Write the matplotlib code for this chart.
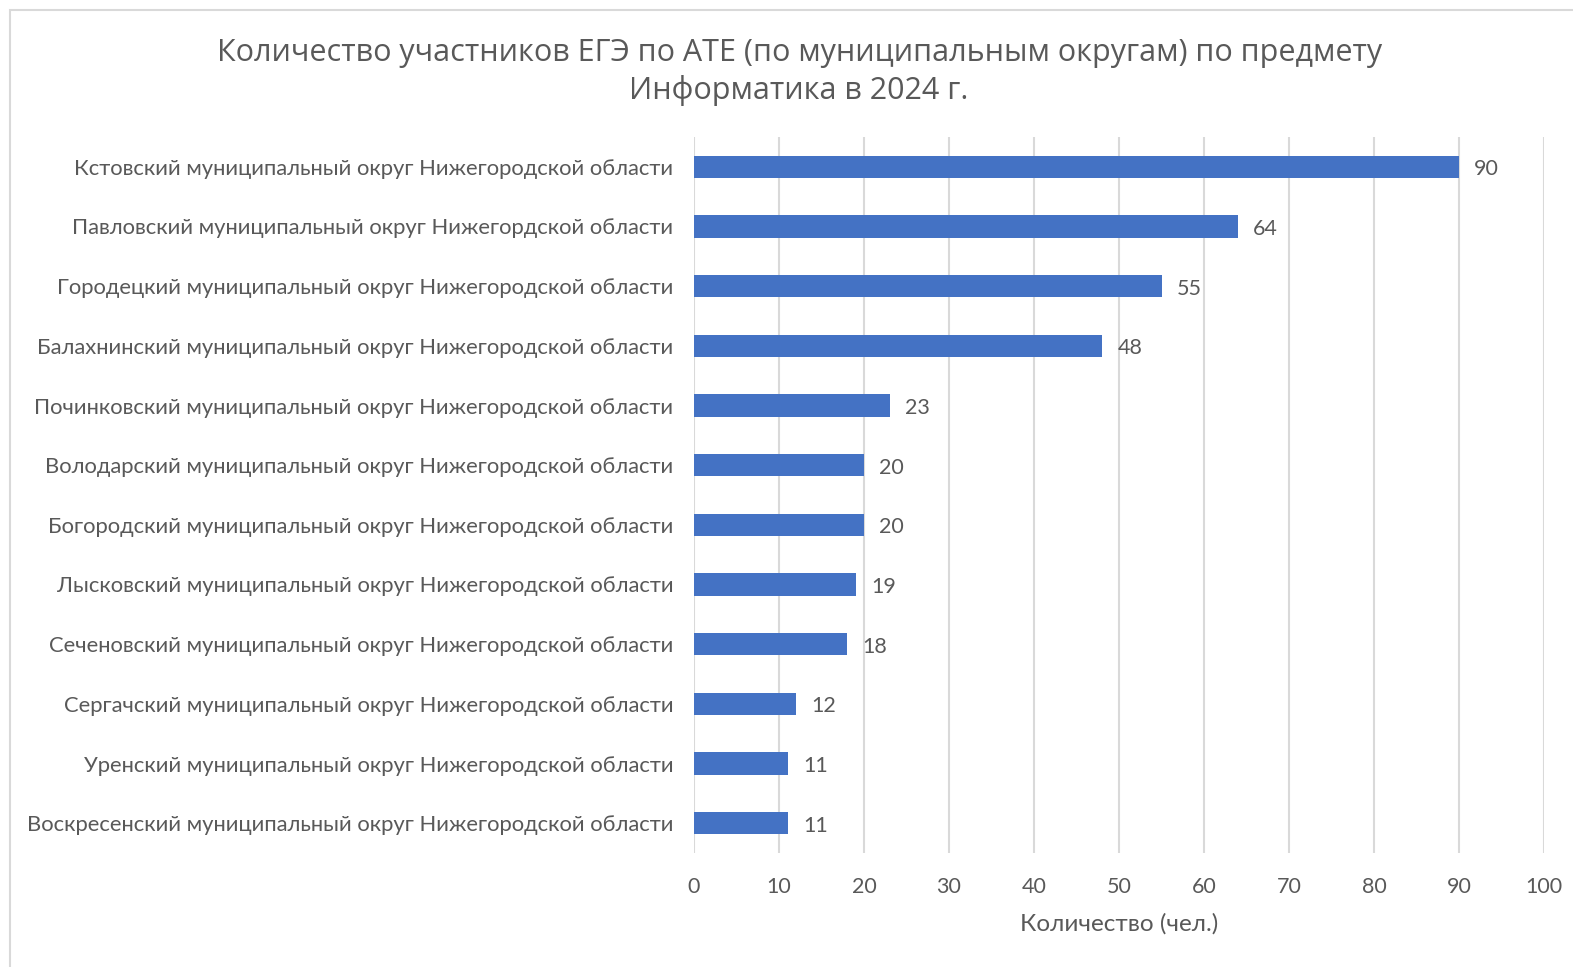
import matplotlib.pyplot as plt
from matplotlib.patches import Rectangle

regions = [
    "Кстовский муниципальный округ Нижегородской области",
    "Павловский муниципальный округ Нижегордской области",
    "Городецкий муниципальный округ Нижегородской области",
    "Балахнинский муниципальный округ Нижегородской области",
    "Починковский муниципальный округ Нижегородской области",
    "Володарский муниципальный округ Нижегородской области",
    "Богородский муниципальный округ Нижегородской области",
    "Лысковский муниципальный округ Нижегородской области",
    "Сеченовский муниципальный округ Нижегородской области",
    "Сергачский муниципальный округ Нижегородской области",
    "Уренский муниципальный округ Нижегородской области",
    "Воскресенский муниципальный округ Нижегородской области",
]
counts = [90, 64, 55, 48, 23, 20, 20, 19, 18, 12, 11, 11]
x_ticks = [0, 10, 20, 30, 40, 50, 60, 70, 80, 90, 100]

TEXT = "#595959"
BAR = "#4472C4"
GRID = "#D9D9D9"

plt.rcParams["font.family"] = ["Lato", "DejaVu Sans"]

fig = plt.figure(figsize=(15.73, 9.67), dpi=100)
fig.patches.append(Rectangle((10 / 1573, -0.1), 1.2, 1 - 10 / 967 + 0.1,
                             transform=fig.transFigure, fill=False,
                             edgecolor="#D9D9D9", linewidth=1.5))

ax = fig.add_axes([694 / 1573, 1 - 853 / 967, 850 / 1573, 716 / 967])

ypos = list(range(len(regions)))
ax.barh(ypos, counts, height=0.37, color=BAR, zorder=3)
ax.set_ylim(len(regions) - 0.5, -0.5)
ax.set_xlim(0, 100)
ax.set_xticks(x_ticks)
ax.set_yticks(ypos)
ax.set_yticklabels(regions, fontsize=15.8, color=TEXT)
ax.tick_params(axis="y", length=0, pad=15)
ax.tick_params(axis="x", length=0, pad=17, labelsize=15.5, labelcolor=TEXT)

ax.grid(axis="x", color=GRID, linewidth=1.5, zorder=0)
for s in ax.spines.values():
    s.set_visible(False)

for y, v in zip(ypos, counts):
    ax.text(v + 1.8, y + 0.04, str(v), va="center", ha="left", fontsize=15.5, color=TEXT)

ax.set_xlabel("Количество (чел.)", fontsize=17.5, color=TEXT, labelpad=12)

fig.text(0.508, 1 - 72 / 967,
         "Количество участников ЕГЭ по АТЕ (по муниципальным округам) по предмету\nИнформатика в 2024 г.",
         ha="center", va="center", fontsize=22, color=TEXT,
         family=["Open Sans", "DejaVu Sans"], linespacing=1.25)

fig.savefig("out.png", dpi=100)
